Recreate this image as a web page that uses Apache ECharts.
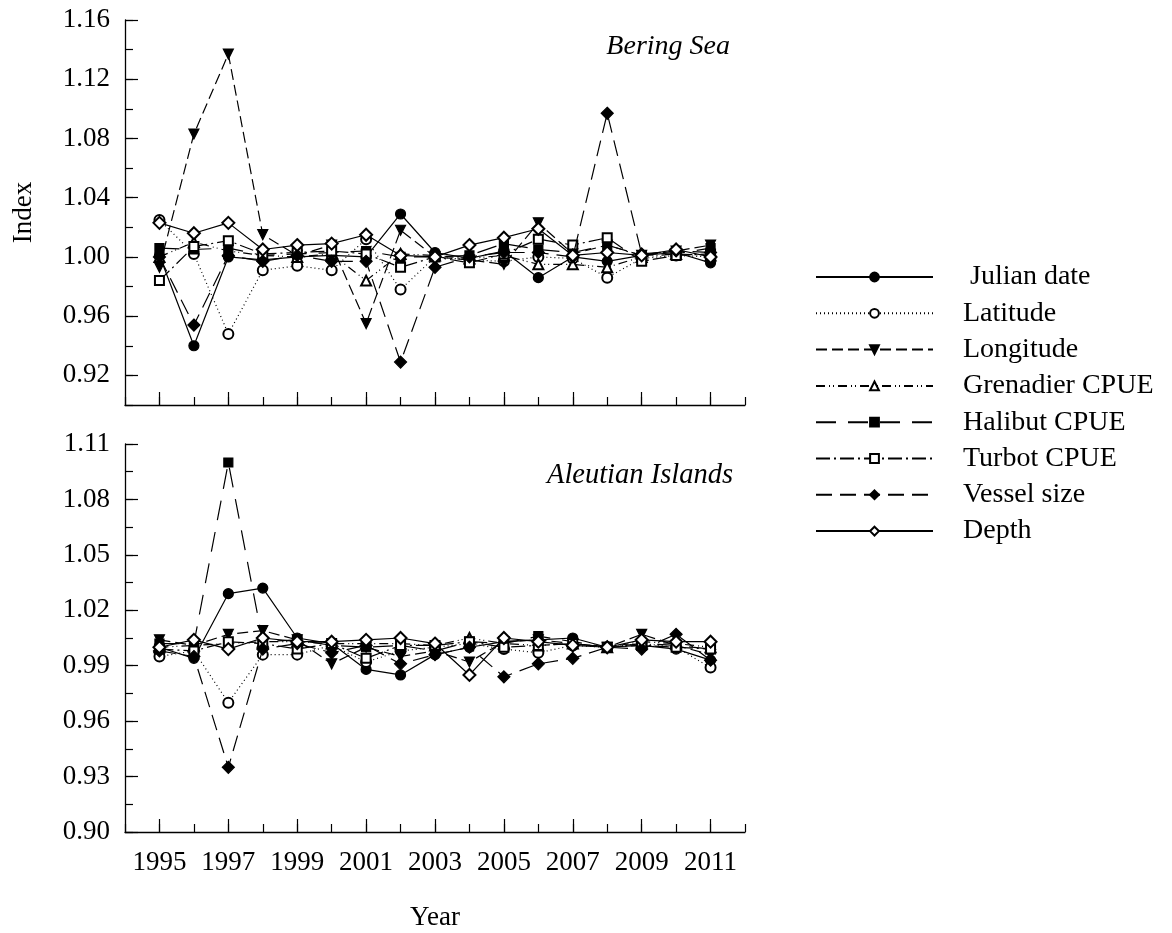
<!DOCTYPE html>
<html>
<head>
<meta charset="utf-8">
<script src="https://cdn.jsdelivr.net/npm/echarts@6/dist/echarts.min.js"></script>
<style>
  html, body { margin: 0; padding: 0; background: #fff; }
  #chart { width: 1172px; height: 933px; }
</style>
</head>
<body>
<div id="chart"></div>
<script>
// Years on the horizontal axis
const years = [1995, 1996, 1997, 1998, 1999, 2000, 2001, 2002, 2003, 2004, 2005, 2006, 2007, 2008, 2009, 2010, 2011];
const yearLabels = [1995, 1997, 1999, 2001, 2003, 2005, 2007, 2009, 2011];

// Tick labels of the two panels
const beringTicks = [0.92, 0.96, 1.00, 1.04, 1.08, 1.12, 1.16];
const aleutianTicks = [0.90, 0.93, 0.96, 0.99, 1.02, 1.05, 1.08, 1.11];

// Bering Sea indices
const bsJulian    = [1.001, 0.940, 1.000, 0.998, 1.000, 1.001, 1.000, 1.029, 1.003, 0.999, 1.004, 0.986, 1.000, 0.997, 1.001, 1.003, 0.996];
const bsLatitude  = [1.025, 1.002, 0.948, 0.991, 0.994, 0.991, 1.012, 0.978, 1.000, 0.998, 0.997, 1.000, 0.999, 0.986, 0.999, 1.001, 1.000];
const bsLongitude = [0.993, 1.083, 1.137, 1.015, 1.001, 1.008, 0.955, 1.018, 1.000, 0.998, 0.995, 1.023, 1.002, 1.008, 1.001, 1.004, 1.008];
const bsGrenadier = [1.000, 1.010, 1.004, 1.001, 1.000, 1.002, 0.984, 1.002, 1.001, 0.999, 1.001, 0.995, 0.995, 0.993, 1.000, 1.002, 1.001];
const bsHalibut   = [1.006, 1.005, 1.006, 1.001, 1.002, 1.003, 1.004, 1.000, 1.000, 1.001, 1.009, 1.005, 1.003, 1.008, 1.001, 1.002, 1.006];
const bsTurbot    = [0.984, 1.007, 1.011, 1.002, 1.003, 1.004, 1.002, 0.993, 1.000, 0.996, 1.002, 1.012, 1.008, 1.013, 0.997, 1.001, 1.002];
const bsVessel    = [1.000, 0.954, 1.001, 0.997, 1.001, 0.997, 0.997, 0.929, 0.993, 1.000, 1.003, 1.003, 1.000, 1.097, 1.002, 1.004, 1.003];
const bsDepth     = [1.023, 1.016, 1.023, 1.005, 1.008, 1.009, 1.015, 1.001, 1.000, 1.008, 1.013, 1.019, 1.001, 1.003, 1.001, 1.005, 1.000];

// Aleutian Islands indices
const aiJulian    = [1.000, 0.994, 1.029, 1.032, 1.005, 1.002, 0.988, 0.985, 0.996, 1.000, 1.003, 1.004, 1.005, 1.000, 1.001, 0.999, 0.993];
const aiLatitude  = [0.995, 0.998, 0.970, 0.996, 0.996, 1.001, 0.992, 0.998, 1.000, 1.002, 0.999, 0.997, 1.001, 1.000, 1.002, 1.000, 0.989];
const aiLongitude = [1.004, 1.001, 1.007, 1.009, 1.004, 0.991, 1.000, 0.995, 0.998, 0.992, 1.003, 1.004, 1.002, 1.000, 1.007, 1.001, 0.996];
const aiGrenadier = [1.000, 1.001, 1.002, 1.003, 1.003, 1.002, 1.002, 1.002, 1.001, 1.005, 1.002, 1.001, 1.002, 1.000, 1.003, 1.002, 1.000];
const aiHalibut   = [1.002, 1.002, 1.100, 1.003, 1.004, 1.001, 1.000, 1.001, 0.998, 1.003, 1.002, 1.006, 1.003, 1.000, 1.002, 1.001, 0.999];
const aiTurbot    = [0.999, 0.998, 1.003, 1.002, 0.999, 1.002, 0.994, 1.001, 1.001, 1.003, 1.000, 1.001, 1.002, 1.000, 1.001, 1.000, 0.999];
const aiVessel    = [0.998, 0.995, 0.935, 0.999, 1.002, 0.997, 1.001, 0.991, 0.996, 1.000, 0.984, 0.991, 0.994, 1.000, 0.999, 1.007, 0.993];
const aiDepth     = [1.000, 1.004, 0.999, 1.005, 1.003, 1.003, 1.004, 1.005, 1.002, 0.985, 1.005, 1.003, 1.001, 1.000, 1.004, 1.003, 1.003];

const seriesNames = [' Julian date', 'Latitude', 'Longitude', 'Grenadier CPUE', 'Halibut CPUE', 'Turbot CPUE', 'Vessel size', 'Depth'];
const beringData = [bsJulian, bsLatitude, bsLongitude, bsGrenadier, bsHalibut, bsTurbot, bsVessel, bsDepth];
const aleutianData = [aiJulian, aiLatitude, aiLongitude, aiGrenadier, aiHalibut, aiTurbot, aiVessel, aiDepth];

// Line and marker look of each variable
const styles = [
  { symbol: 'circle',        size: 10, rotate: 0,   dash: 'solid' },
  { symbol: 'emptyCircle',   size: 10, rotate: 0,   dash: [1, 3] },
  { symbol: 'triangle',      size: 10, rotate: 180, dash: [11, 5] },
  { symbol: 'emptyTriangle', size: 10, rotate: 0,   dash: [9, 4, 1, 3, 1, 4] },
  { symbol: 'rect',          size: 9,  rotate: 0,   dash: [20, 12] },
  { symbol: 'emptyRect',     size: 9,  rotate: 0,   dash: [14, 4, 2, 4] },
  { symbol: 'diamond',       size: 12, rotate: 0,   dash: [16, 8] },
  { symbol: 'emptyDiamond',  size: 12, rotate: 0,   dash: 'solid' }
];

const FONT = '"Liberation Serif", "Times New Roman", serif';
const INK = '#000';

function makeSeries(values, idx, panel) {
  const st = styles[idx];
  return {
    type: 'line',
    name: seriesNames[idx],
    xAxisIndex: panel * 2,
    yAxisIndex: panel * 2,
    data: years.map((y, i) => [y, values[i]]),
    symbol: st.symbol,
    symbolSize: st.size,
    symbolRotate: st.rotate,
    showAllSymbol: true,
    lineStyle: { color: INK, width: 1.2, type: st.dash },
    itemStyle: { color: INK, borderColor: INK, borderWidth: 1.2 },
    emphasis: { disabled: true },
    animation: false,
    z: 2 + idx
  };
}

const series = [];
beringData.forEach((v, i) => series.push(makeSeries(v, i, 0)));
aleutianData.forEach((v, i) => series.push(makeSeries(v, i, 1)));

const labelText = { color: INK, fontFamily: FONT, fontSize: 27 };

// Short ticks at every year / every minor step, drawn with the axis line
function minorX(grid) {
  return {
    type: 'value', gridIndex: grid, position: 'bottom', min: 1994, max: 2012, interval: 1,
    axisLine: { show: true, onZero: false, lineStyle: { color: INK, width: 1.3 } },
    axisTick: { show: true, inside: true, length: 8, lineStyle: { color: INK, width: 1.2 } },
    axisLabel: { show: false },
    splitLine: { show: false }
  };
}
// Long ticks and labels at odd years
function majorX(grid, showLabels) {
  return {
    type: 'value', gridIndex: grid, position: 'bottom', offset: 0, min: 1994, max: 2012, interval: 1,
    axisLine: { show: false, onZero: false },
    axisTick: { show: true, inside: true, length: 13, customValues: yearLabels, lineStyle: { color: INK, width: 1.2 } },
    axisLabel: showLabels
      ? Object.assign({ show: true, customValues: yearLabels, margin: 17, formatter: v => String(v) }, labelText)
      : { show: false },
    splitLine: { show: false },
    name: showLabels ? 'Year' : '',
    nameLocation: 'middle',
    nameGap: 72,
    nameTextStyle: labelText
  };
}
function minorY(grid, min, max, step, extra) {
  return Object.assign({
    type: 'value', gridIndex: grid, position: 'left', min: min, max: max, interval: step,
    axisLine: { show: true, onZero: false, lineStyle: { color: INK, width: 1.3 } },
    axisTick: { show: true, inside: true, length: 8, lineStyle: { color: INK, width: 1.2 } },
    axisLabel: { show: false },
    splitLine: { show: false }
  }, extra || {});
}
function majorY(grid, min, max, step, ticks) {
  return {
    type: 'value', gridIndex: grid, position: 'left', offset: 0, min: min, max: max, interval: step,
    axisLine: { show: false, onZero: false },
    axisTick: { show: true, inside: true, length: 13, customValues: ticks, lineStyle: { color: INK, width: 1.2 } },
    axisLabel: Object.assign({ show: true, customValues: ticks, margin: 15, formatter: v => v.toFixed(2) }, labelText),
    splitLine: { show: false }
  };
}

const option = {
  backgroundColor: '#fff',
  animation: false,
  title: [
    { text: 'Bering Sea', right: 437, top: 28,
      textStyle: { fontFamily: FONT, fontSize: 28, fontStyle: 'italic', fontWeight: 'normal', color: INK } },
    { text: 'Aleutian Islands', right: 434, top: 456,
      textStyle: { fontFamily: FONT, fontSize: 28.5, fontStyle: 'italic', fontWeight: 'normal', color: INK } }
  ],
  legend: {
    orient: 'vertical',
    left: 810,
    top: 258,
    itemWidth: 117,
    itemHeight: 11,
    itemGap: 8.3,
    selectedMode: false,
    data: seriesNames,
    textStyle: { color: INK, fontFamily: FONT, fontSize: 28, lineHeight: 28, padding: [0, 0, 0, 25] }
  },
  grid: [
    { left: 125, top: 20, width: 620, height: 385 },
    { left: 125, top: 444, width: 620, height: 388 }
  ],
  xAxis: [
    minorX(0), majorX(0, false),
    minorX(1), majorX(1, true)
  ],
  yAxis: [
    minorY(0, 0.90, 1.16, 0.02, {
      name: 'Index', nameLocation: 'middle', nameGap: 88, nameRotate: 90, nameTextStyle: labelText
    }),
    majorY(0, 0.90, 1.16, 0.02, beringTicks),
    minorY(1, 0.90, 1.11, 0.015),
    majorY(1, 0.90, 1.11, 0.015, aleutianTicks)
  ],
  series: series
};

const chart = echarts.init(document.getElementById('chart'), null, { renderer: 'canvas' });
chart.setOption(option);
</script>
</body>
</html>
